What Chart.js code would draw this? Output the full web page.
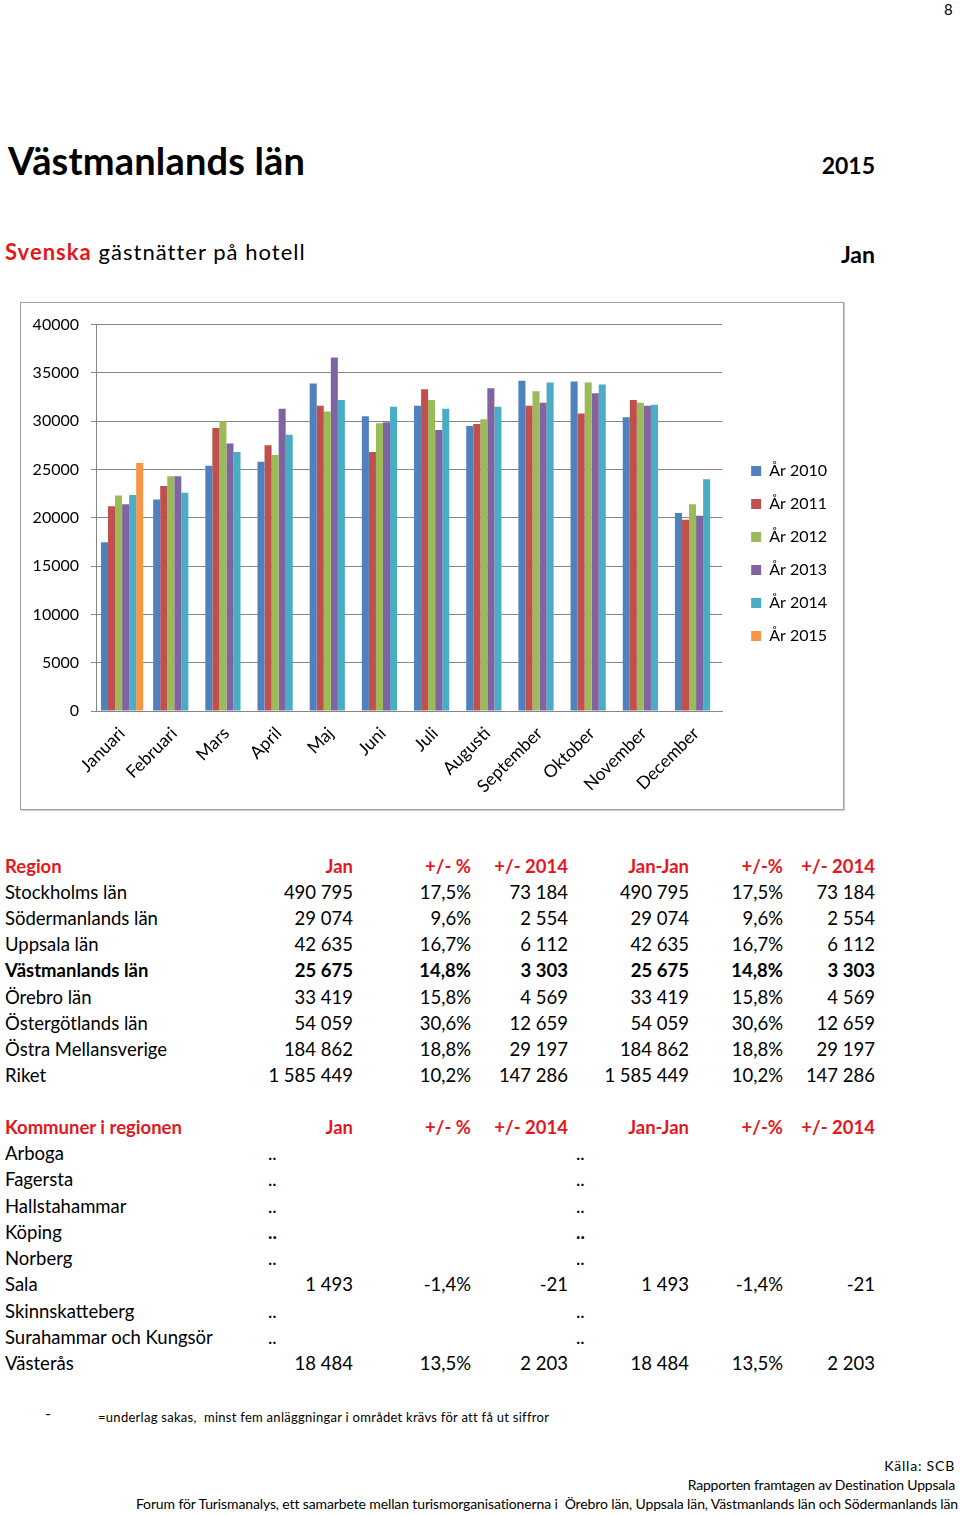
<!DOCTYPE html>
<html lang="sv">
<head>
<meta charset="utf-8">
<script src="https://cdn.jsdelivr.net/npm/chart.js@4.4.1/dist/chart.umd.min.js"></script>
<style>
  html, body { margin: 0; padding: 0; background: #fff; }
  body { width: 960px; height: 1515px; position: relative; overflow: hidden; font-family: Lato, "Open Sans", sans-serif; color: #000; }
  .abs { position: absolute; white-space: nowrap; }
  .red { color: #e3171d; }
  .b { font-weight: bold; }
  #frame { position: absolute; left: 20px; top: 302px; width: 824px; height: 508px; box-sizing: border-box; border: 1px solid #a0a0a0; box-shadow: 1px 1px 1px #d0d0d0; }
  #chart { position: absolute; left: 0; top: 0; }
  .cell { position: absolute; white-space: nowrap; font-size: 18.5px; line-height: 22px; }
</style>
</head>
<body>
<div class="abs" style="left:944px; top:0px; font-size:15px;">8</div>
<div class="abs b fit" data-w="297" style="left:8px; top:137px; font-size:38px; line-height:46px;">Västmanlands län</div>
<div class="abs b" style="right:85px; top:151px; font-size:23px; line-height:28px;">2015</div>
<div class="abs fit" data-w="299" style="left:5px; top:238px; font-size:22px; line-height:28px;"><span class="red b">Svenska</span> gästnätter på hotell</div>
<div class="abs b" style="right:85px; top:240px; font-size:23px; line-height:28px;">Jan</div>

<div id="frame"><canvas id="chart" width="822" height="506"></canvas></div>

<div id="tables"></div>

<div class="abs" style="left:45px; top:1403px; font-size:16px;">-</div>
<div class="abs fit" data-w="450" style="left:98px; top:1408px; font-size:13px; line-height:18px;">=underlag sakas,&nbsp; minst fem anläggningar i området krävs för att få ut siffror</div>
<div class="abs fitr" data-w="70" style="right:5px; top:1457px; font-size:14px; line-height:18px;">Källa: SCB</div>
<div class="abs fitr" data-w="268" style="right:5px; top:1476px; font-size:14px; line-height:18px;">Rapporten framtagen av Destination Uppsala</div>
<div class="abs fitr" data-w="822" style="right:2px; top:1495px; font-size:14px; line-height:18px;">Forum för Turismanalys, ett samarbete mellan turismorganisationerna i&nbsp; Örebro län, Uppsala län, Västmanlands län och Södermanlands län</div>

<script>
// ---------- Chart data ----------
const months = ['Januari','Februari','Mars','April','Maj','Juni','Juli','Augusti','September','Oktober','November','December'];
const seriesNames = ['År 2010','År 2011','År 2012','År 2013','År 2014','År 2015'];
const y2010 = [17480, 21900, 25400, 25800, 33900, 30500, 31600, 29500, 34200, 34100, 30400, 20500];
const y2011 = [21200, 23300, 29300, 27500, 31600, 26800, 33300, 29700, 31600, 30800, 32200, 19800];
const y2012 = [22300, 24300, 30000, 26500, 31000, 29800, 32200, 30200, 33100, 34000, 31900, 21400];
const y2013 = [21400, 24300, 27700, 31300, 36600, 29900, 29100, 33400, 31900, 32900, 31600, 20200];
const y2014 = [22372, 22600, 26800, 28600, 32200, 31500, 31300, 31500, 34000, 33800, 31700, 24000];
const y2015 = [25675, null, null, null, null, null, null, null, null, null, null, null];
const yTicks = [0, 5000, 10000, 15000, 20000, 25000, 30000, 35000, 40000];
const seriesColors = ['#4f81bd','#c0504d','#9bbb59','#8064a2','#4bacc6','#f79646'];

// ---------- Table data ----------
const regionHeader = ['Region','Jan','+/- %','+/- 2014','Jan-Jan','+/-%','+/- 2014'];
const regionNames = ['Stockholms län','Södermanlands län','Uppsala län','Västmanlands län','Örebro län','Östergötlands län','Östra Mellansverige','Riket'];
const regionJan   = ['490 795','29 074','42 635','25 675','33 419','54 059','184 862','1 585 449'];
const regionPct   = ['17,5%','9,6%','16,7%','14,8%','15,8%','30,6%','18,8%','10,2%'];
const regionDiff  = ['73 184','2 554','6 112','3 303','4 569','12 659','29 197','147 286'];
const boldRegion = 'Västmanlands län';

const kommunHeader = ['Kommuner i regionen','Jan','+/- %','+/- 2014','Jan-Jan','+/-%','+/- 2014'];
const kommunNames = ['Arboga','Fagersta','Hallstahammar','Köping','Norberg','Sala','Skinnskatteberg','Surahammar och Kungsör','Västerås'];
const kommunJan   = ['..','..','..','..','..','1 493','..','..','18 484'];
const kommunPct   = ['','','','','','-1,4%','','','13,5%'];
const kommunDiff  = ['','','','','','-21','','','2 203'];

// ---------- Tables ----------
const colRight = [353, 471, 568, 689, 783, 875];
const dotLeft = [268, 576];
const tables = document.getElementById('tables');
function cell(text, x, yc, opts) {
  const d = document.createElement('div');
  d.className = 'cell' + (opts.bold ? ' b' : '') + (opts.red ? ' red' : '');
  d.textContent = text;
  d.style.top = (yc - 11) + 'px';
  if (opts.align === 'right') d.style.right = (960 - x) + 'px'; else d.style.left = x + 'px';
  tables.appendChild(d);
}
function header(h, yc) {
  cell(h[0], 5, yc, {bold: true, red: true});
  for (let i = 1; i < h.length; i++) cell(h[i], colRight[i-1], yc, {bold: true, red: true, align: 'right'});
}
header(regionHeader, 866);
regionNames.forEach((n, i) => {
  const yc = 892 + i * 26.15;
  const bold = n === boldRegion;
  cell(n, 5, yc, {bold});
  const vals = [regionJan[i], regionPct[i], regionDiff[i], regionJan[i], regionPct[i], regionDiff[i]];
  vals.forEach((v, j) => cell(v, colRight[j], yc, {bold, align: 'right'}));
});
header(kommunHeader, 1127);
kommunNames.forEach((n, i) => {
  const yc = 1153 + i * 26.25;
  cell(n, 5, yc, {});
  if (kommunJan[i] === '..') {
    const bold = n === 'Köping';
    cell('..', dotLeft[0], yc, {bold});
    cell('..', dotLeft[1], yc, {bold});
  } else {
    const vals = [kommunJan[i], kommunPct[i], kommunDiff[i], kommunJan[i], kommunPct[i], kommunDiff[i]];
    vals.forEach((v, j) => cell(v, colRight[j], yc, {align: 'right'}));
  }
});

// fit text widths via letter-spacing
document.querySelectorAll('.fit, .fitr').forEach(el => {
  const target = +el.dataset.w;
  const w = el.getBoundingClientRect().width;
  const n = el.textContent.length;
  if (n > 1) el.style.letterSpacing = ((target - w) / (n - 1)) + 'px';
});

// ---------- Chart ----------
Chart.defaults.font.family = 'Lato, "Open Sans", sans-serif';
Chart.defaults.font.size = 16;
Chart.defaults.color = '#000';

const seriesData = [y2010, y2011, y2012, y2013, y2014, y2015];
const legendShift = {
  id: 'legendShift',
  afterLayout(chart) {
    const l = chart.legend;
    if (l) { l.left += 12; l.right += 12; l.top -= 10; l.bottom -= 10; }
  }
};

new Chart(document.getElementById('chart'), {
  type: 'bar',
  data: {
    labels: months,
    datasets: seriesData.map((d, i) => ({
      label: seriesNames[i],
      data: d,
      backgroundColor: seriesColors[i],
      borderWidth: 0,
      categoryPercentage: 0.81,
      barPercentage: 1.0
    }))
  },
  options: {
    responsive: false,
    animation: false,
    devicePixelRatio: 1,
    layout: { padding: { top: 15, right: 18, bottom: 0, left: 0 } },
    plugins: {
      legend: {
        position: 'right',
        labels: { boxWidth: 10, boxHeight: 10, padding: 17, font: { size: 16 }, color: '#000' }
      },
      tooltip: { enabled: false }
    },
    scales: {
      x: {
        grid: { display: false },
        border: { display: true, color: '#868686', width: 1 },
        ticks: { maxRotation: 45, minRotation: 45, autoSkip: false, font: { size: 17.5 }, padding: 4 },
        afterFit(scale) { scale.height = 98; }
      },
      y: {
        min: 0, max: 40000,
        afterBuildTicks(scale) { scale.ticks = yTicks.map(v => ({ value: v })); },
        ticks: { callback: v => String(v), font: { size: 16 }, padding: 12 },
        grid: { color: '#868686', lineWidth: 1, drawTicks: true, tickLength: 5 },
        border: { display: true, color: '#868686', width: 1 },
        afterFit(scale) { scale.width = 75; }
      }
    }
  },
  plugins: [legendShift]
});
</script>
</body>
</html>
